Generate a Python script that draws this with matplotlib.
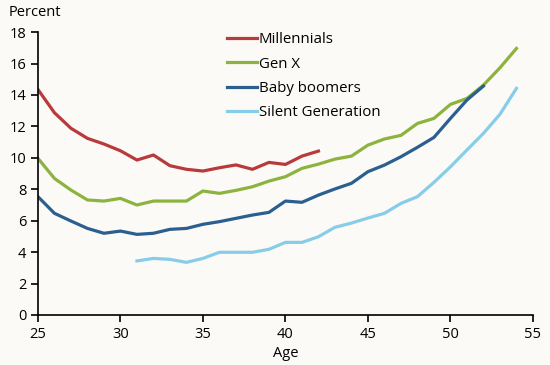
import matplotlib
matplotlib.use("Agg")
import matplotlib.pyplot as plt

plt.rcParams['font.family'] = ['Open Sans', 'DejaVu Sans']

ages_mill = list(range(25, 43))
millennials = [14.35, 12.87, 11.88, 11.24, 10.88, 10.45, 9.86, 10.18, 9.5, 9.27,
               9.16, 9.37, 9.55, 9.27, 9.71, 9.58, 10.11, 10.43]

ages_genx = list(range(25, 55))
genx = [9.97, 8.69, 7.95, 7.32, 7.25, 7.42, 7.0, 7.25, 7.25, 7.25,
        7.89, 7.74, 7.93, 8.16, 8.52, 8.80, 9.33, 9.6, 9.92, 10.11,
        10.81, 11.2, 11.43, 12.19, 12.51, 13.4, 13.78, 14.63, 15.73, 16.96]

ages_boom = list(range(25, 53))
boomers = [7.53, 6.47, 5.98, 5.51, 5.2, 5.34, 5.13, 5.2, 5.45, 5.51,
           5.77, 5.94, 6.15, 6.36, 6.53, 7.25, 7.17, 7.63, 8.02, 8.38,
           9.12, 9.54, 10.07, 10.67, 11.3, 12.51, 13.68, 14.57]

ages_silent = list(range(31, 55))
silent = [3.44, 3.6, 3.54, 3.35, 3.6, 3.99, 3.99, 3.99, 4.18, 4.62,
          4.62, 4.98, 5.58, 5.85, 6.17, 6.47, 7.1, 7.53, 8.44, 9.43,
          10.5, 11.56, 12.77, 14.42]

bg = '#fbfaf6'
fig = plt.figure(figsize=(5.5, 3.65), dpi=100, facecolor=bg)
ax = fig.add_axes([0.069, 0.137, 0.9, 0.775], facecolor=bg)

lw = 2.3
ax.plot(ages_mill, millennials, color='#b93a3a', lw=lw, label='Millennials')
ax.plot(ages_genx, genx, color='#8db33f', lw=lw, label='Gen X')
ax.plot(ages_boom, boomers, color='#2b5f8f', lw=lw, label='Baby boomers')
ax.plot(ages_silent, silent, color='#87cde9', lw=lw, label='Silent Generation')

ax.set_xlim(25, 55)
ax.set_ylim(0, 18)
ax.set_xticks(range(25, 56, 5))
ax.set_yticks(range(0, 19, 2))
for s in ['top', 'right']:
    ax.spines[s].set_visible(False)
for s in ['left', 'bottom']:
    ax.spines[s].set_linewidth(1.2)
ax.tick_params(labelsize=10.5, width=1.2, length=5, colors='black')
ax.set_xlabel('Age', fontsize=10.5, labelpad=3)
fig.text(0.015, 0.965, 'Percent', fontsize=10.5, va='center', ha='left')

ax.legend(loc='upper left', bbox_to_anchor=(0.355, 1.047), frameon=False,
          fontsize=10.8, handlelength=2.0, handletextpad=0.1, labelspacing=0.62)

fig.savefig('out.png', dpi=100, facecolor=bg)
